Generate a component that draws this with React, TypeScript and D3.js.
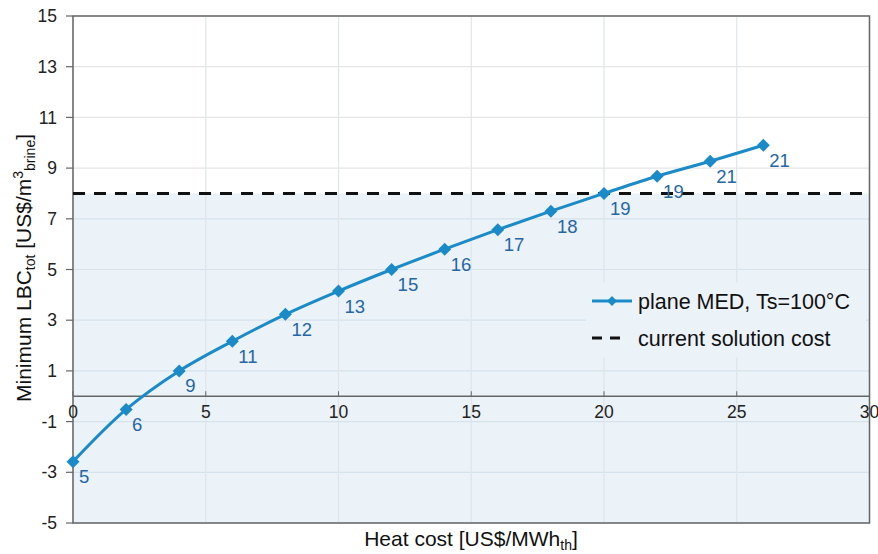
import React from "react";
import * as d3 from "d3";

const heatCost = [0, 2, 4, 6, 8, 10, 12, 14, 16, 18, 20, 22, 24, 26];
const lbcTot = [-2.58, -0.52, 1.0, 2.17, 3.23, 4.15, 5.0, 5.8, 6.57, 7.3, 8.0, 8.68, 9.27, 9.9];
const pointLabels = ["5", "6", "9", "11", "12", "13", "15", "16", "17", "18", "19", "19", "21", "21"];
const currentCost = 8;
const yTicks = [-5, -3, -1, 1, 3, 5, 7, 9, 11, 13, 15];
const xTicks = [0, 5, 10, 15, 20, 25, 30];
const legendLabels = ["plane MED, Ts=100°C", "current solution cost"];

export default function App() {
  const W = 878, H = 554;
  const x = d3.scaleLinear().domain([0, 30]).range([73, 869.5]);
  const y = d3.scaleLinear().domain([-5, 15]).range([523, 16]);
  const line = d3
    .line<number>()
    .x((_, i) => x(heatCost[i]))
    .y((d) => y(d))
    .curve(d3.curveCatmullRom.alpha(0.5));
  const font = "Liberation Sans, Arial, sans-serif";
  const lineColor = "#1b8bc8";
  const labelColor = "#2566a3";
  const diamond = (cx: number, cy: number, r: number) =>
    `M${cx},${cy - r}L${cx + r},${cy}L${cx},${cy + r}L${cx - r},${cy}Z`;
  return (
    <svg width={W} height={H} style={{ position: "absolute", left: 0, top: 0, background: "#fff" }} fontFamily={font}>
      {/* shaded area below current cost */}
      <rect x={x(0)} y={y(currentCost)} width={x(30) - x(0)} height={y(-5) - y(currentCost)} fill="#ebf2f8" />
      {/* grid */}
      {yTicks.map((t) => (
        <line key={"gy" + t} x1={x(0)} x2={x(30)} y1={y(t)} y2={y(t)} stroke={t < currentCost ? "#d6e2ec" : "#e6e6e6"} strokeWidth={1.2} />
      ))}
      {xTicks.map((t) => (
        <line key={"gx" + t} x1={x(t)} x2={x(t)} y1={y(15)} y2={y(-5)} stroke="#dfe5ea" strokeWidth={1.2} />
      ))}
      {/* frame */}
      <rect x={x(0)} y={y(15)} width={x(30) - x(0)} height={y(-5) - y(15)} fill="none" stroke="#666" strokeWidth={1.5} />
      {/* y ticks */}
      {yTicks.map((t) => (
        <g key={"ty" + t}>
          <line x1={x(0) - 7} x2={x(0)} y1={y(t)} y2={y(t)} stroke="#666" strokeWidth={1.2} />
          <text x={57} y={y(t)} dy="0.35em" textAnchor="end" fontSize={17.5} fill="#222">
            {t}
          </text>
        </g>
      ))}
      {/* x axis at y=0 */}
      <line x1={x(0)} x2={x(30)} y1={y(0)} y2={y(0)} stroke="#666" strokeWidth={1.5} />
      {xTicks.map((t) => (
        <g key={"tx" + t}>
          <line x1={x(t)} x2={x(t)} y1={y(0) - 5} y2={y(0)} stroke="#666" strokeWidth={1} />
          <text x={x(t)} y={y(0) + 22} textAnchor="middle" fontSize={17.5} fill="#222">
            {t}
          </text>
        </g>
      ))}
      {/* current cost dashed */}
      <line x1={x(0)} x2={x(30)} y1={y(currentCost)} y2={y(currentCost)} stroke="#111" strokeWidth={3} strokeDasharray="12 9" />
      {/* series */}
      <path d={line(lbcTot) || ""} fill="none" stroke={lineColor} strokeWidth={3} />
      {lbcTot.map((v, i) => (
        <path key={"m" + i} d={diamond(x(heatCost[i]), y(v), 6.5)} fill={lineColor} />
      ))}
      {lbcTot.map((v, i) => (
        <text key={"l" + i} x={x(heatCost[i]) + 6} y={y(v) + 15} dy="0.35em" fontSize={18.5} fill={labelColor}>
          {pointLabels[i]}
        </text>
      ))}
      {/* legend */}
      <rect x={586} y={283} width={280} height={74} fill="#ebf2f8" />
      <line x1={592} x2={632} y1={301} y2={301} stroke={lineColor} strokeWidth={3} />
      <path d={diamond(612, 301, 5)} fill={lineColor} />
      <text x={638} y={301} dy="0.35em" fontSize={21.5} fill="#111">
        {legendLabels[0]}
      </text>
      <line x1={592} x2={626} y1={338} y2={338} stroke="#111" strokeWidth={3} strokeDasharray="10 8" />
      <text x={638} y={338} dy="0.35em" fontSize={21.5} fill="#111">
        {legendLabels[1]}
      </text>
      {/* axis titles */}
      <text x={471} y={546} textAnchor="middle" fontSize={21} fill="#111">
        Heat cost [US$/MWh
        <tspan fontSize={14} dy={4}>th</tspan>
        <tspan dy={-4}>]</tspan>
      </text>
      <text transform={`translate(31,268) rotate(-90)`} textAnchor="middle" fontSize={21} fill="#111">
        Minimum LBC
        <tspan fontSize={14} dy={4}>tot</tspan>
        <tspan dy={-4}> [US$/m</tspan>
        <tspan fontSize={14} dy={-8}>3</tspan>
        <tspan fontSize={14} dy={12}>brine</tspan>
        <tspan dy={-4}>]</tspan>
      </text>
    </svg>
  );
}
